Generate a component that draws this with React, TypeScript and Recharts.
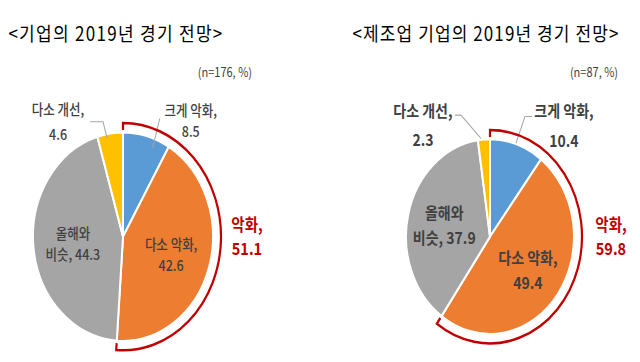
import React from 'react'
import { PieChart, Pie, Cell } from 'recharts'

// values in %, clockwise from 12 o'clock
const categories = ['크게 악화', '다소 악화', '올해와 비슷', '다소 개선']
const allValues = [8.5, 42.6, 44.3, 4.6]
const mfgValues = [10.4, 49.4, 37.9, 2.3]
const worseTotals = [51.1, 59.8]
const titles = ['<기업의 2019년 경기 전망>', '<제조업 기업의 2019년 경기 전망>']
const sampleNotes = ['(n=176, %)', '(n=87, %)']

const COLORS = ['#5B9BD5', '#ED7D31', '#A5A5A5', '#FFC000']
const RED = '#C00000'
const FONT = '"Noto Sans CJK KR", "Noto Sans", sans-serif'
const RADIAN = Math.PI / 180
const SCALE_Y = 1.16

type Layout = {
  cx: number
  cy: number
  r: number
  fontSize: number
  weight: number
  gap: number
  noteDx: number
  outside: Record<number, { text: [number, number][]; leader: [number, number][] }>
}

const layouts: Layout[] = [
  {
    cx: 118, cy: 199, r: 90, fontSize: 12.5, weight: 500, gap: 9, noteDx: 26,
    outside: {
      0: { text: [[44, -23], [44, -5]], leader: [[13, -15], [6, 10]] },
      3: { text: [[-52, -21], [-52, 0]], leader: [[-20, -10], [-7, -10], [-3, 4]] },
    },
  },
  {
    cx: 485, cy: 199, r: 84, fontSize: 14, weight: 700, gap: 11, noteDx: 29,
    outside: {
      0: { text: [[47, -30], [47, -4]], leader: [[15, -24], [8, -24], [-1, -1]] },
      3: { text: [[-61, -26], [-61, -1]], leader: [[-29, -21], [-23, -21], [-3, -1]] },
    },
  },
]

const labelLines = (name: string, value: number, index: number) => {
  if (index === 2) {
    const [a, b] = name.split(' ')
    return [a, `${b}, ${value}`]
  }
  return [`${name},`, `${value}`]
}

const sliceLabel = (layout: Layout) => (p: any) => {
  const { cx, cy, midAngle, outerRadius, index, name, value } = p
  const cos = Math.cos(-midAngle * RADIAN)
  const sin = Math.sin(-midAngle * RADIAN)
  const lines = labelLines(name, value, index)
  const textProps = {
    fontSize: layout.fontSize,
    fontWeight: layout.weight,
    fontFamily: FONT,
    fill: '#404040',
    textAnchor: 'middle' as const,
    dominantBaseline: 'central' as const,
  }
  const out = layout.outside[index]
  if (out) {
    const ex = cx + outerRadius * cos
    const ey = cy + outerRadius * sin
    const pts = out.leader.map(([dx, dy]) => `${ex + dx},${ey + dy}`).join(' ')
    return (
      <g key={`l-${index}`}>
        <polyline points={pts} fill="none" stroke="#A6A6A6" strokeWidth={1} />
        {lines.map((t, i) => (
          <text key={i} x={ex + out.text[i][0]} y={ey + out.text[i][1]} {...textProps}>{t}</text>
        ))}
      </g>
    )
  }
  const lx = cx + outerRadius * 0.56 * cos
  const ly = cy + outerRadius * 0.56 * sin
  return (
    <g key={`l-${index}`}>
      {lines.map((t, i) => (
        <text key={i} x={lx} y={ly + (i === 0 ? -layout.gap : layout.gap)} {...textProps}>{t}</text>
      ))}
    </g>
  )
}

const bracketLabel = (layout: Layout, total: number) => (p: any) => {
  if (p.index !== 0) return null
  const { cx, cy, outerRadius: R, startAngle, endAngle } = p
  const pt = (a: number, rr: number) => `${cx + rr * Math.cos(-a * RADIAN)},${cy + rr * Math.sin(-a * RADIAN)}`
  const large = startAngle - endAngle > 180 ? 1 : 0
  const d = `M${pt(startAngle, R - 6)} L${pt(startAngle, R)} A${R},${R} 0 ${large} 1 ${pt(endAngle, R)} L${pt(endAngle, R - 6)}`
  const tx = cx + R + layout.noteDx
  return (
    <g key="bracket">
      <path d={d} fill="none" stroke={RED} strokeWidth={2.2} />
      <text x={tx} y={cy - 11} textAnchor="middle" dominantBaseline="central" fontSize={14.5} fontWeight={700} fontFamily={FONT} fill={RED}>악화,</text>
      <text x={tx} y={cy + 9.5} textAnchor="middle" dominantBaseline="central" fontSize={14.5} fontWeight={700} fontFamily={FONT} fill={RED}>{total}</text>
    </g>
  )
}

const seriesList = [allValues, mfgValues]

export default function App() {
  return (
    <div style={{ position: 'absolute', left: 0, top: 0, width: 640, height: 362, overflow: 'hidden', background: '#fff' }}>
      <div style={{ width: 640, height: 312, transform: `scaleY(${SCALE_Y})`, transformOrigin: '0 0' }}>
        <PieChart width={640} height={312}>
          {seriesList.map((vals, k) => {
            const layout = layouts[k]
            const data = categories.map((name, i) => ({ name, value: vals[i] }))
            return (
              <Pie
                key={`pie-${k}`}
                data={data}
                dataKey="value"
                nameKey="name"
                cx={layout.cx}
                cy={layout.cy}
                outerRadius={layout.r}
                startAngle={90}
                endAngle={-270}
                stroke="#fff"
                strokeWidth={2}
                label={sliceLabel(layout)}
                labelLine={false}
                isAnimationActive={false}
              >
                {data.map((_e, i) => (
                  <Cell key={`c-${i}`} fill={COLORS[i]} />
                ))}
              </Pie>
            )
          })}
          {worseTotals.map((total, k) => {
            const layout = layouts[k]
            const data = [
              { name: '악화', value: total },
              { name: '기타', value: 100 - total },
            ]
            return (
              <Pie
                key={`br-${k}`}
                data={data}
                dataKey="value"
                nameKey="name"
                cx={layout.cx}
                cy={layout.cy}
                innerRadius={layout.r + 8}
                outerRadius={layout.r + 8}
                startAngle={90}
                endAngle={-270}
                stroke="none"
                fill="none"
                label={bracketLabel(layout, total)}
                labelLine={false}
                isAnimationActive={false}
              >
                {data.map((_e, i) => (
                  <Cell key={`b-${i}`} fill="none" stroke="none" />
                ))}
              </Pie>
            )
          })}
          <text x={116} y={28} textAnchor="middle" dominantBaseline="central" fontSize={17} fontFamily={FONT} fill="#000" letterSpacing={1.3}>{titles[0]}</text>
          <text x={486} y={28} textAnchor="middle" dominantBaseline="central" fontSize={17} fontFamily={FONT} fill="#000" letterSpacing={1.1}>{titles[1]}</text>
          <text x={252} y={61} textAnchor="end" dominantBaseline="central" fontSize={11} fontFamily={FONT} fill="#404040">{sampleNotes[0]}</text>
          <text x={618} y={61} textAnchor="end" dominantBaseline="central" fontSize={11} fontFamily={FONT} fill="#404040">{sampleNotes[1]}</text>
        </PieChart>
      </div>
    </div>
  )
}
